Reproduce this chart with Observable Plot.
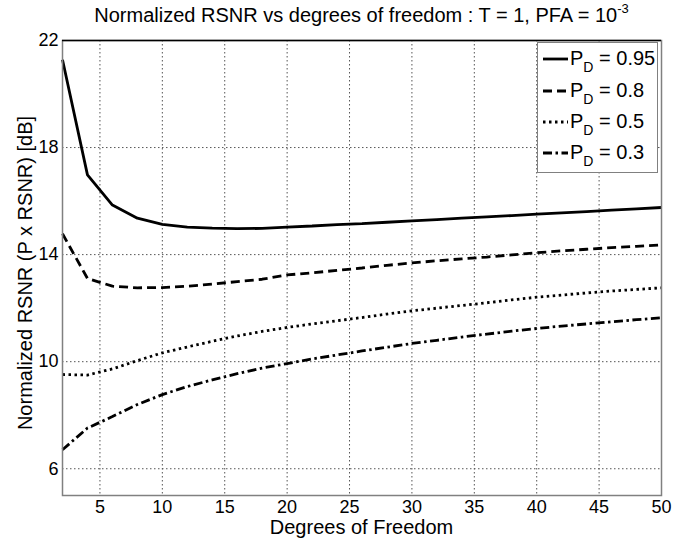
<!DOCTYPE html>
<html>
<head>
<meta charset="utf-8">
<script src="https://cdn.jsdelivr.net/npm/d3@7"></script>
<script src="https://cdn.jsdelivr.net/npm/@observablehq/plot@0.6"></script>
<style>
  html, body { margin: 0; padding: 0; background: #fff; }
  #wrap { position: relative; width: 688px; height: 540px; font-family: "Liberation Sans", Arial, sans-serif; color: #000; }
  #title { position: absolute; left: 62px; width: 599px; top: 3px; line-height: 24px; text-align: center; font-size: 20px; white-space: nowrap; }
  #title sup { font-size: 13px; line-height: 0; vertical-align: 9px; }
  #xlabel { position: absolute; left: 62px; width: 599px; top: 515px; line-height: 24px; text-align: center; font-size: 20px; white-space: nowrap; }
  #ylabel { position: absolute; left: 25px; top: 273px; line-height: 24px; transform: translate(-50%, -50%) rotate(-90deg); font-size: 20px; white-space: nowrap; }
  #legend { position: absolute; left: 537px; top: 42px; width: 121px; height: 131px; border: 1px solid #808080; background: #fff; box-sizing: border-box; }
  .item { position: absolute; left: 0; width: 119px; height: 24px; font-size: 20px; line-height: 24px; white-space: nowrap; }
  .item svg { position: absolute; left: 5px; top: 10px; }
  .item span { position: absolute; left: 32px; top: 0; }
  .item sub { font-size: 14px; line-height: 0; vertical-align: -7px; }
</style>
</head>
<body>
<div id="wrap">
  <div id="chart"></div>
  <div id="title">Normalized RSNR vs degrees of freedom : T = 1, PFA = 10<sup>-3</sup></div>
  <div id="xlabel">Degrees of Freedom</div>
  <div id="ylabel">Normalized RSNR (P x RSNR) [dB]</div>
  <div id="legend"></div>
</div>
<script>
const dof = [2,4,6,8,10,12,14,16,18,20,22,24,26,28,30,32,34,36,38,40,42,44,46,48,50];
const pd095 = [21.28,16.98,15.85,15.36,15.13,15.03,14.99,14.97,14.98,15.03,15.07,15.12,15.16,15.21,15.26,15.31,15.36,15.41,15.46,15.51,15.56,15.61,15.66,15.71,15.76];
const pd080 = [14.78,13.11,12.82,12.76,12.77,12.82,12.90,12.99,13.08,13.24,13.32,13.41,13.50,13.60,13.69,13.77,13.84,13.91,13.99,14.07,14.14,14.20,14.26,14.31,14.36];
const pd050 = [9.52,9.50,9.73,10.04,10.33,10.55,10.76,10.96,11.13,11.28,11.41,11.53,11.65,11.78,11.90,12.00,12.10,12.20,12.31,12.41,12.49,12.57,12.64,12.70,12.76];
const pd030 = [6.71,7.52,7.95,8.40,8.77,9.07,9.32,9.55,9.76,9.93,10.10,10.25,10.40,10.54,10.68,10.80,10.92,11.03,11.14,11.24,11.33,11.41,11.49,11.57,11.64];
const seriesNames = ["0.95","0.8","0.5","0.3"];
const seriesValues = [pd095, pd080, pd050, pd030];
const dashes = ["none","9,5","2.5,3.5","9,3.5,2.5,3.5"];
const xTicks = [5,10,15,20,25,30,35,40,45,50];
const yTicks = [6,10,14,18,22];

const rows = [];
seriesNames.forEach((name, i) => {
  dof.forEach((d, j) => rows.push({series: name, dof: d, value: seriesValues[i][j]}));
});

const lineMarks = seriesNames.map((name, i) =>
  Plot.line(rows.filter(r => r.series === name), {
    x: "dof", y: "value", stroke: "#000", strokeWidth: 2.8,
    strokeDasharray: dashes[i], strokeLinejoin: "miter", strokeLinecap: "butt"
  })
);

const chart = Plot.plot({
  width: 688, height: 540,
  marginLeft: 62, marginRight: 27, marginTop: 40, marginBottom: 45,
  style: {fontFamily: "Liberation Sans, Arial, sans-serif", fontSize: "18px", color: "#000", background: "#fff"},
  x: {domain: [2, 50]},
  y: {domain: [5, 22]},
  marks: [
    Plot.gridX(xTicks.filter(v => v < 50), {stroke: "#555", strokeOpacity: 1, strokeDasharray: "1.5,2.5", strokeWidth: 1}),
    Plot.gridY(yTicks.filter(v => v < 22), {stroke: "#555", strokeOpacity: 1, strokeDasharray: "1.5,2.5", strokeWidth: 1}),
    ...lineMarks,
    Plot.frame({stroke: "#808080", strokeWidth: 1.5}),
    Plot.ruleY([22], {stroke: "#000", strokeWidth: 1.5}),
    Plot.axisX(xTicks, {tickSize: 0, tickPadding: 5, label: null, fontSize: 18}),
    Plot.axisY(yTicks, {tickSize: 0, tickPadding: 4, label: null, fontSize: 18})
  ]
});
document.getElementById("chart").appendChild(chart);

const legend = document.getElementById("legend");
const tops = [3, 35, 66, 97];
seriesNames.forEach((name, i) => {
  const item = document.createElement("div");
  item.className = "item";
  item.style.top = tops[i] + "px";
  item.innerHTML = `<svg width="26" height="6"><line x1="0" y1="3" x2="25" y2="3" stroke="#000" stroke-width="2.8" stroke-dasharray="${dashes[i] === "none" ? "" : dashes[i]}"/></svg><span>P<sub>D</sub> = ${name}</span>`;
  legend.appendChild(item);
});
</script>
</body>
</html>
